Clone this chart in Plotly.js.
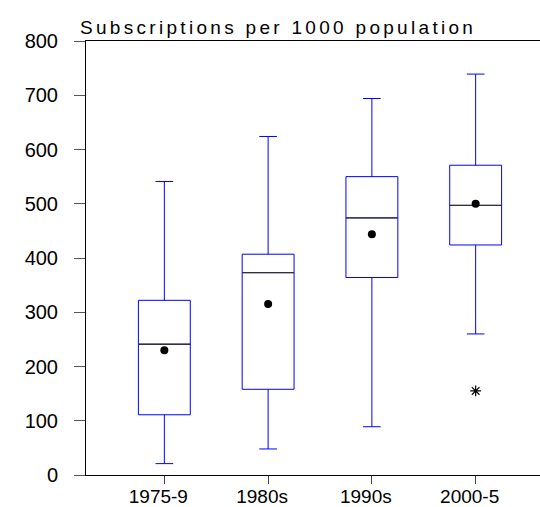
<!DOCTYPE html>
<html>
<head>
<meta charset="utf-8">
<script src="https://cdn.plot.ly/plotly-3.0.1.min.js"></script>
<style>
  html, body { margin: 0; padding: 0; overflow: hidden; background: #fff; }
  #chart { width: 556px; height: 507px; }
  .gtitle { letter-spacing: 3.3px; }
</style>
</head>
<body>
<div id="chart"></div>
<script>
// Subscriptions per 1000 population, grouped by period
const periods = ["1975-9", "1980s", "1990s", "2000-5"];
const lowerWhisker = [21, 48, 89, 260];
const quartile1 = [111, 158, 364, 424];
const medians = [241, 373, 474, 497];
const quartile3 = [322, 407, 550, 571];
const upperWhisker = [541, 624, 694, 739];
const means = [230, 315, 444, 500];
const outlierPeriod = ["2000-5"];
const outlierValues = [155];

const pos = periods.map((_, i) => i);
const boxWidth = 0.5;

const boxes = {
  type: "box",
  x: pos,
  q1: quartile1,
  median: medians,
  q3: quartile3,
  lowerfence: lowerWhisker,
  upperfence: upperWhisker,
  width: boxWidth,
  whiskerwidth: 0.34,
  boxpoints: false,
  line: { color: "#0000ff", width: 1 },
  fillcolor: "rgba(255,255,255,0)",
  hoverinfo: "skip",
  showlegend: false
};

// median bars are drawn in dark grey over the box outline
const medX = [], medY = [];
pos.forEach((p, i) => {
  medX.push(p - boxWidth / 2, p + boxWidth / 2, null);
  medY.push(medians[i], medians[i], null);
});
const medianLines = {
  type: "scatter", mode: "lines",
  x: medX, y: medY,
  line: { color: "#333333", width: 1.3 },
  hoverinfo: "skip", showlegend: false
};

const meanDots = {
  type: "scatter", mode: "markers",
  x: pos, y: means,
  marker: { color: "#000", size: 8, symbol: "circle" },
  hoverinfo: "skip", showlegend: false
};

const outliers = {
  type: "scatter", mode: "markers",
  x: outlierPeriod.map(p => periods.indexOf(p)), y: outlierValues,
  marker: { color: "#000", size: 9, symbol: "asterisk-open", line: { color: "#000", width: 1.2 } },
  hoverinfo: "skip", showlegend: false
};

const font = "Liberation Sans, Arial, sans-serif";

const layout = {
  width: 556,
  height: 507,
  margin: { l: 86, r: 2, t: 41, b: 32 },
  paper_bgcolor: "#fff",
  plot_bgcolor: "#fff",
  font: { family: font, color: "#000", size: 19 },
  title: {
    text: "Subscriptions per 1000 population",
    font: { family: font, size: 19, color: "#000" },
    xref: "container", x: 80 / 556, xanchor: "left",
    yref: "container", y: 1 - 27 / 507, yanchor: "middle"
  },
  xaxis: {
    range: [-0.755, 3.755],
    tickvals: pos,
    ticktext: periods,
    showgrid: false, zeroline: false,
    showline: true, mirror: true, linecolor: "#000", linewidth: 1,
    ticks: "outside", ticklen: 8, tickcolor: "#444", tickwidth: 1,
    tickfont: { family: font, size: 19, color: "#000" },
    ticklabelshift: -6,
    ticklabelstandoff: -4
  },
  yaxis: {
    range: [0, 800],
    tickvals: [0, 100, 200, 300, 400, 500, 600, 700, 800],
    showgrid: false, zeroline: false,
    showline: true, mirror: true, linecolor: "#000", linewidth: 1,
    ticks: "outside", ticklen: 11, tickcolor: "#555", tickwidth: 1,
    tickfont: { family: font, size: 20, color: "#000" },
    ticklabelstandoff: 12
  }
};

Plotly.newPlot("chart", [boxes, medianLines, meanDots, outliers], layout, { staticPlot: true, displayModeBar: false });
</script>
</body>
</html>
